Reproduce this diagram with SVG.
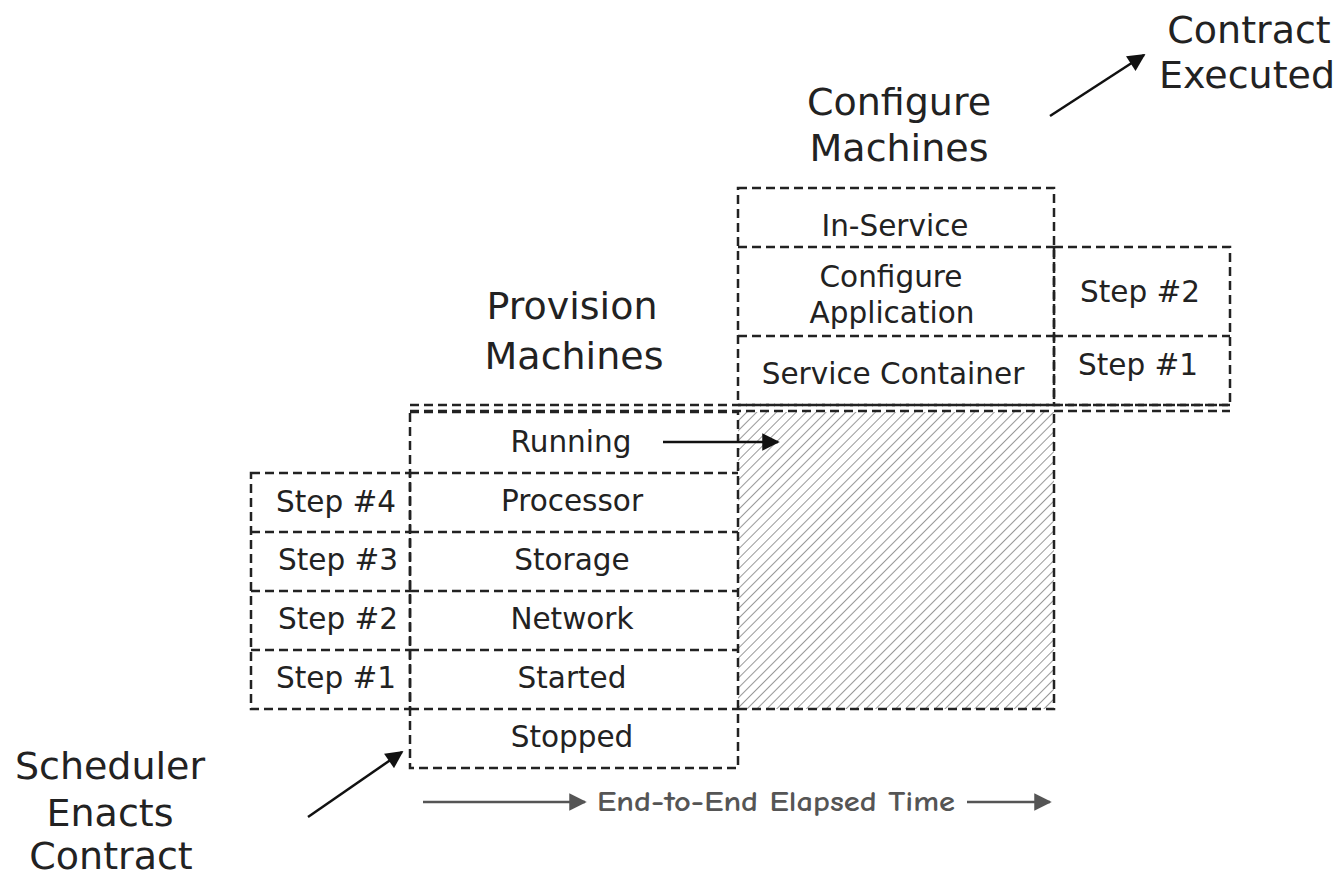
<svg xmlns="http://www.w3.org/2000/svg" width="1342" height="876" viewBox="0 0 1342 876">
<style>
.d{fill:none;stroke:#222;stroke-width:2.5;stroke-dasharray:9 5}
.t{font-family:"DejaVu Sans",Verdana,sans-serif;font-size:29.5px;fill:#222;text-anchor:middle;dominant-baseline:central}
.h{font-family:"DejaVu Sans",Verdana,sans-serif;font-size:38px;fill:#222;text-anchor:middle}
.a{stroke:#111;stroke-width:2.5;fill:none}
.g{stroke:#555;stroke-width:2.5;fill:none}
</style>
<defs>
<pattern id="hatch" width="7" height="7" patternUnits="userSpaceOnUse" patternTransform="rotate(45)">
<rect width="7" height="7" fill="#fff"/>
<line x1="0" y1="0" x2="0" y2="7" stroke="#999" stroke-width="2"/>
</pattern>
<marker id="ah" viewBox="0 0 10 10" refX="9" refY="5" markerWidth="8" markerHeight="7" orient="auto" markerUnits="strokeWidth">
<path d="M0,0 L10,5 L0,10 z" fill="#111"/>
</marker>
<marker id="ag" viewBox="0 0 10 10" refX="9" refY="5" markerWidth="7" markerHeight="7" orient="auto" markerUnits="strokeWidth">
<path d="M0,0 L10,5 L0,10 z" fill="#555"/>
</marker>
</defs>
<rect width="1342" height="876" fill="#fff"/>

<g id="hatched-area">
<rect x="738" y="412" width="316" height="297" fill="url(#hatch)"/>
<path class="d" d="M738 709 H1054 V412"/>
</g>

<g id="provision-column">
<rect class="d" x="410" y="412" width="328" height="356"/>
<path class="d" d="M410 473 H738 M410 532 H738 M410 591 H738 M410 650 H738 M410 709 H738"/>
<text class="t" x="571" y="442">Running</text>
<text class="t" x="572" y="501">Processor</text>
<text class="t" x="572" y="560">Storage</text>
<text class="t" x="572" y="619">Network</text>
<text class="t" x="572" y="678">Started</text>
<text class="t" x="572" y="737">Stopped</text>
</g>

<g id="provision-steps">
<rect class="d" x="251" y="473" width="159" height="236"/>
<path class="d" d="M251 532 H410 M251 591 H410 M251 650 H410"/>
<text class="t" x="336" y="502">Step #4</text>
<text class="t" x="338" y="560">Step #3</text>
<text class="t" x="338" y="619">Step #2</text>
<text class="t" x="336" y="678">Step #1</text>
</g>

<g id="configure-column">
<rect class="d" x="738" y="188" width="316" height="217"/>
<path class="d" d="M738 247 H1054 M738 336 H1054"/>
<text class="t" x="895" y="226">In-Service</text>
<text class="t" x="891" y="277">Configure</text>
<text class="t" x="892" y="313">Application</text>
<text class="t" x="893" y="374">Service Container</text>
</g>

<g id="configure-steps">
<rect class="d" x="1054" y="247" width="176" height="158"/>
<path class="d" d="M1054 336 H1230"/>
<text class="t" x="1140" y="292">Step #2</text>
<text class="t" x="1138" y="365">Step #1</text>
</g>

<g id="divider">
<path class="d" d="M410 405 H1230 M410 411 H1230"/>
</g>

<g id="titles">
<text class="h" x="572" y="319">Provision</text>
<text class="h" x="574" y="369">Machines</text>
<text class="h" x="899" y="115">Configure</text>
<text class="h" x="899" y="161">Machines</text>
<text class="h" x="1249" y="43">Contract</text>
<text class="h" x="1247" y="88">Executed</text>
<text class="h" x="110" y="779">Scheduler</text>
<text class="h" x="110" y="826">Enacts</text>
<text class="h" x="111" y="869">Contract</text>
</g>

<g id="connectors">
<line class="a" x1="663" y1="442" x2="778" y2="442" marker-end="url(#ah)"/>
<line class="a" x1="1050" y1="116" x2="1144" y2="55" marker-end="url(#ah)"/>
<line class="a" x1="308" y1="817" x2="402" y2="752" marker-end="url(#ah)"/>
<line class="g" x1="423" y1="802" x2="585" y2="802" marker-end="url(#ag)"/>
<line class="g" x1="967" y1="802" x2="1050" y2="802" marker-end="url(#ag)"/>
</g>
<g id="time-label">
<text x="597" y="811" font-family="'Comic Neue','DejaVu Sans',sans-serif" font-size="28" font-weight="bold" fill="#555" textLength="358" lengthAdjust="spacingAndGlyphs">End-to-End Elapsed Time</text>
</g>
</svg>
